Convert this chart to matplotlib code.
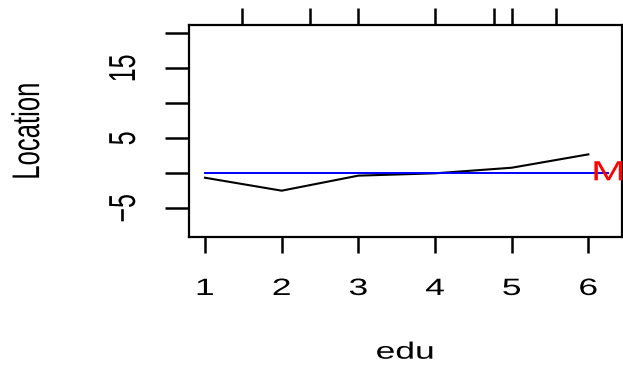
import numpy as np
import matplotlib
matplotlib.use("Agg")
import matplotlib.pyplot as plt
from matplotlib.patheffects import AbstractPathEffect
from matplotlib.transforms import Affine2D

plt.rcParams['font.family'] = ['Liberation Sans', 'DejaVu Sans']

# data
edu = [1, 2, 3, 4, 5, 6]
location = [-0.63, -2.48, -0.33, 0.0, 0.8, 2.71]
top_marks = [1.48, 2.37, 3.0, 4.0, 4.77, 5.0, 5.58]
ref_x = [1, 6.26]
ref_y = [0, 0]
y_ticks = [-5, 0, 5, 10, 15, 20]
y_labels = ['\u22125', '', '5', '', '15', '']


class Stretch(AbstractPathEffect):
    """widen text horizontally about its own centre (the source image is stretched)"""
    def __init__(self, sx):
        super().__init__()
        self.sx = sx

    def draw_path(self, renderer, gc, tpath, affine, rgbFace=None):
        ext = affine.transform_path(tpath).get_extents()
        cx = 0.5*(ext.x0 + ext.x1)
        tr = affine + Affine2D().translate(-cx, 0).scale(self.sx, 1).translate(cx, 0)
        renderer.draw_path(gc, tpath, tr, rgbFace)


SX = 1.5
FS = 17

fig = plt.figure(figsize=(6.23, 3.68), dpi=100)
ax = fig.add_axes([188.5/623, 1-237/368, (621.7-188.5)/623, (237-25)/368])

ax.plot(edu, location, color='black', lw=1.5)
ax.plot(ref_x, ref_y, color='blue', lw=1.4)
ax.text(ref_x[1], 0, 'M', color='red', fontsize=20, ha='center', va='center',
        path_effects=[Stretch(SX)])

ax.set_xlim(0.785, 6.435)
ax.set_ylim(-9.1, 21.2)

ax.set_xticks(edu)
ax.set_xticklabels([str(e) for e in edu], fontsize=FS)
ax.set_yticks(y_ticks)
ax.set_yticklabels(y_labels, fontsize=18, rotation=90, va='center')
ax.tick_params(axis='x', length=11.5, width=1.8, pad=18)
ax.tick_params(axis='y', length=17, width=1.8, pad=21)

top = ax.secondary_xaxis('top')
top.set_xticks(top_marks)
top.set_xticklabels([])
top.tick_params(length=12, width=1.8)
top.spines['top'].set_visible(False)

for s in ax.spines.values():
    s.set_linewidth(1.6)

ax.set_xlabel('edu', fontsize=FS, labelpad=30)
ax.set_ylabel('Location', fontsize=18.5, labelpad=52)

for t in ax.get_xticklabels() + ax.get_yticklabels() + [ax.xaxis.label, ax.yaxis.label]:
    t.set_path_effects([Stretch(SX)])

fig.savefig('out.png', dpi=100)
